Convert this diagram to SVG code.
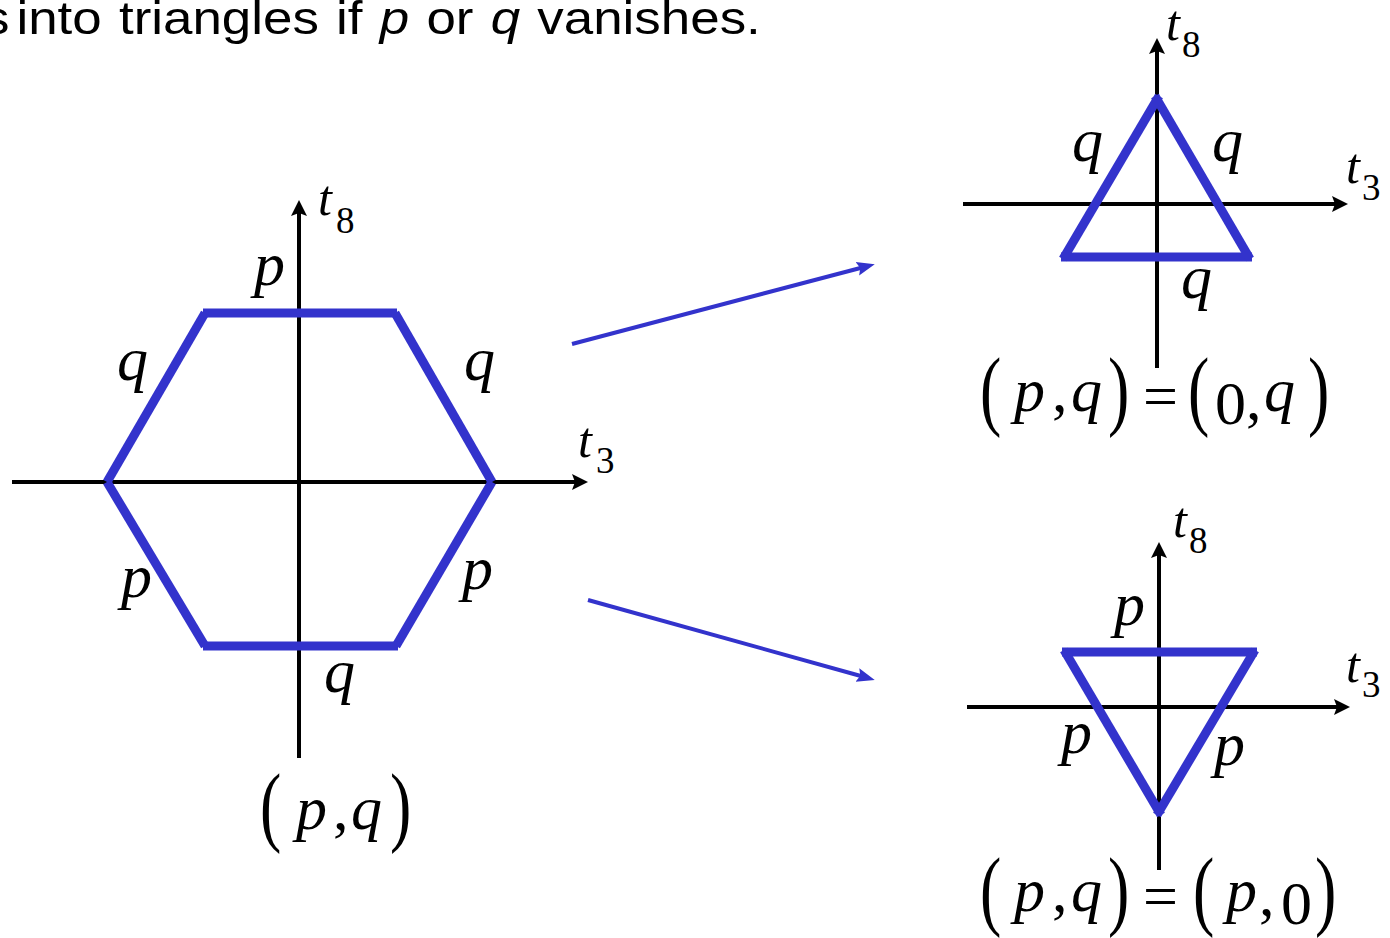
<svg xmlns="http://www.w3.org/2000/svg" width="1390" height="938" viewBox="0 0 1390 938">
<style>
.hdr{font-family:"Liberation Sans",Arial,sans-serif;font-size:46px;fill:#000}
.it{font-style:italic}
.v{font-family:"Liberation Serif","Times New Roman",serif;font-style:italic;font-size:62px;fill:#000}
.t{font-family:"Liberation Serif","Times New Roman",serif;font-style:italic;font-size:50px;fill:#000}
.sub{font-family:"Liberation Serif","Times New Roman",serif;font-size:37px;fill:#000}
.n{font-family:"Liberation Serif","Times New Roman",serif;font-size:62px;fill:#000}
.par{font-family:"Liberation Serif","Times New Roman",serif;font-size:64px;fill:#000}
.axis{stroke:#000;stroke-width:4;fill:none}
.poly{stroke:#3333cc;stroke-width:9;fill:none;stroke-linecap:butt}
.conn{stroke:#3333cc;stroke-width:4;fill:none}
</style>
<defs>
<marker id="ahBlack" markerUnits="userSpaceOnUse" markerWidth="20" markerHeight="20" viewBox="0 -10 20 20" refX="10" refY="0" orient="auto">
<path d="M16,0 L0,-8 L3,0 L0,8 z" fill="#000"/>
</marker>
<marker id="ahBlue" markerUnits="userSpaceOnUse" markerWidth="22" markerHeight="20" viewBox="0 -10 22 20" refX="11" refY="0" orient="auto">
<path d="M18,0 L0,-7 L3,0 L0,7 z" fill="#3333cc"/>
</marker>
</defs>
<rect width="1390" height="938" fill="#fff"/>

<text class="hdr" y="34" transform="scale(1.15,1)"><tspan x="-14.8">s</tspan><tspan x="14.3" word-spacing="2.2">into triangles if <tspan class="it">p</tspan> or <tspan class="it">q</tspan> vanishes.</tspan></text>

<g id="hexagon">
<line class="axis" x1="12" y1="482" x2="582" y2="482" marker-end="url(#ahBlack)"/>
<line class="axis" x1="299" y1="758" x2="299" y2="206" marker-end="url(#ahBlack)"/>
<line class="poly" x1="203" y1="313" x2="397" y2="313"/>
<line class="poly" x1="395" y1="313" x2="492" y2="482"/>
<line class="poly" x1="492" y1="482" x2="396" y2="646"/>
<line class="poly" x1="398" y1="646" x2="203" y2="646"/>
<line class="poly" x1="205" y1="646" x2="107" y2="482"/>
<line class="poly" x1="107" y1="482" x2="205" y2="313"/>
<text class="t" x="318" y="215">t</text><text class="sub" x="336" y="233">8</text>
<text class="t" x="578" y="457">t</text><text class="sub" x="596" y="473">3</text>
<text class="v" x="254" y="285">p</text>
<text class="v" x="117" y="380">q</text>
<text class="v" x="464" y="380">q</text>
<text class="v" x="121" y="597">p</text>
<text class="v" x="462" y="589">p</text>
<text class="v" x="324" y="692">q</text>
<text class="par" transform="translate(260,835) scale(1,1.38)">(</text>
<text class="v" x="296" y="829">p</text>
<text class="n" x="333" y="829">,</text>
<text class="v" x="351" y="829">q</text>
<text class="par" transform="translate(390,835) scale(1,1.38)">)</text>
</g>

<g id="triangle-q">
<line class="axis" x1="963" y1="204" x2="1342" y2="204" marker-end="url(#ahBlack)"/>
<line class="axis" x1="1157" y1="368" x2="1157" y2="44" marker-end="url(#ahBlack)"/>
<line class="poly" x1="1061" y1="257" x2="1252" y2="257"/>
<line class="poly" x1="1250" y1="259" x2="1155" y2="96"/>
<line class="poly" x1="1159" y1="96" x2="1063" y2="259"/>
<text class="t" x="1166" y="40">t</text><text class="sub" x="1182" y="57">8</text>
<text class="t" x="1346" y="183">t</text><text class="sub" x="1362" y="200">3</text>
<text class="v" x="1072" y="161">q</text>
<text class="v" x="1212" y="161">q</text>
<text class="v" x="1181" y="298">q</text>
<text class="par" transform="translate(980,419) scale(1,1.38)">(</text>
<text class="v" x="1014" y="411">p</text>
<text class="n" x="1052" y="411">,</text>
<text class="v" x="1071" y="411">q</text>
<text class="par" transform="translate(1108,419) scale(1,1.38)">)</text>
<text class="n" x="1143" y="417">=</text>
<text class="par" transform="translate(1188,419) scale(1,1.38)">(</text>
<text class="n" x="1215" y="424">0</text>
<text class="n" x="1246" y="419">,</text>
<text class="v" x="1264" y="411">q</text>
<text class="par" transform="translate(1308,419) scale(1,1.38)">)</text>
</g>

<g id="triangle-p">
<line class="axis" x1="967" y1="707" x2="1344" y2="707" marker-end="url(#ahBlack)"/>
<line class="axis" x1="1159" y1="870" x2="1159" y2="548" marker-end="url(#ahBlack)"/>
<line class="poly" x1="1062" y1="652" x2="1257" y2="652"/>
<line class="poly" x1="1064" y1="650" x2="1161" y2="815"/>
<line class="poly" x1="1157" y1="815" x2="1255" y2="650"/>
<text class="t" x="1173" y="537">t</text><text class="sub" x="1189" y="553">8</text>
<text class="t" x="1346" y="682">t</text><text class="sub" x="1362" y="697">3</text>
<text class="v" x="1114" y="625">p</text>
<text class="v" x="1061" y="753">p</text>
<text class="v" x="1214" y="765">p</text>
<text class="par" transform="translate(980,919) scale(1,1.38)">(</text>
<text class="v" x="1014" y="911">p</text>
<text class="n" x="1052" y="911">,</text>
<text class="v" x="1071" y="911">q</text>
<text class="par" transform="translate(1108,919) scale(1,1.38)">)</text>
<text class="n" x="1143" y="917">=</text>
<text class="par" transform="translate(1193,919) scale(1,1.38)">(</text>
<text class="v" x="1226" y="911">p</text>
<text class="n" x="1259" y="915">,</text>
<text class="n" x="1281" y="924">0</text>
<text class="par" transform="translate(1315,919) scale(1,1.38)">)</text>
</g>

<g id="connectors">
<line class="conn" x1="572" y1="344" x2="868" y2="266" marker-end="url(#ahBlue)"/>
<line class="conn" x1="588" y1="600" x2="868" y2="678" marker-end="url(#ahBlue)"/>
</g>
</svg>
